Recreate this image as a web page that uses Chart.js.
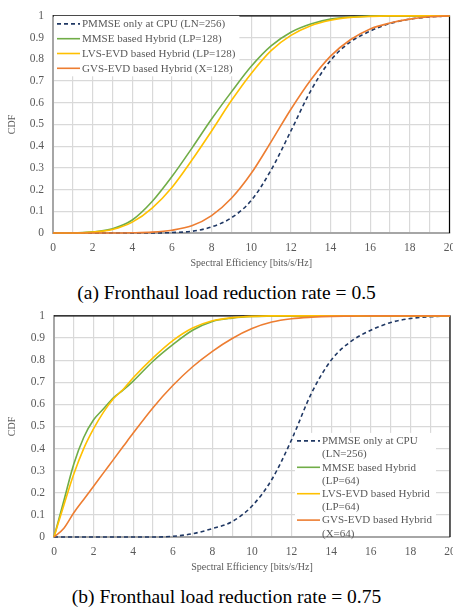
<!DOCTYPE html>
<html>
<head>
<meta charset="utf-8">
<script src="https://cdn.jsdelivr.net/npm/chart.js@4"></script>
<style>
  body { margin: 0; background: #fff; width: 453px; height: 609px; overflow: hidden; position: relative;
         font-family: "Liberation Serif", "Times New Roman", serif; }
  canvas { position: absolute; left: 0; }
  .cap { position: absolute; left: 0; width: 453px; text-align: center; font-size: 19.5px; line-height: 22px; color: #000; }
</style>
</head>
<body>
<canvas id="chartA" width="453" height="280" style="top:0"></canvas>
<div class="cap" style="top:282px">(a) Fronthaul load reduction rate = 0.5</div>
<canvas id="chartB" width="453" height="284" style="top:300px"></canvas>
<div class="cap" style="top:586px">(b) Fronthaul load reduction rate = 0.75</div>
<script>
// (a) reduction rate 0.5
const seTop = [0, 1, 2, 3, 4, 5, 6, 7, 8, 9, 10, 11, 12, 13, 14, 15, 16, 17, 18, 19, 20];
const pmmseTop = [0, 0, 0, 0, 0, 0, 0.002, 0.008, 0.028, 0.07, 0.15, 0.29, 0.47, 0.655, 0.795, 0.88, 0.93, 0.965, 0.985, 0.995, 1];
const mmseTop = [0, 0, 0.005, 0.02, 0.06, 0.145, 0.26, 0.39, 0.525, 0.65, 0.768, 0.862, 0.925, 0.963, 0.985, 0.995, 0.999, 1, 1, 1, 1];
const lvsTop = [0, 0, 0.004, 0.016, 0.05, 0.115, 0.21, 0.335, 0.47, 0.61, 0.735, 0.84, 0.91, 0.955, 0.98, 0.993, 0.998, 1, 1, 1, 1];
const gvsTop = [0, 0, 0, 0, 0.001, 0.004, 0.013, 0.033, 0.08, 0.16, 0.275, 0.42, 0.57, 0.705, 0.815, 0.89, 0.94, 0.967, 0.985, 0.996, 1];

// (b) reduction rate 0.75
const seBot = [0, 0.5, 1, 1.5, 2, 2.5, 3, 3.5, 4, 5, 6, 7, 8, 9, 10, 11, 12, 13, 14, 15, 16, 17, 18, 19, 20];
const pmmseBot = [0, 0, 0, 0, 0, 0, 0, 0, 0, 0, 0.003, 0.015, 0.038, 0.07, 0.14, 0.26, 0.44, 0.65, 0.8, 0.885, 0.935, 0.97, 0.988, 0.996, 1];
const mmseBot = [0, 0.165, 0.33, 0.45, 0.53, 0.58, 0.63, 0.665, 0.705, 0.795, 0.87, 0.935, 0.975, 0.99, 0.997, 0.999, 1, 1, 1, 1, 1, 1, 1, 1, 1];
const lvsBot = [0, 0.145, 0.285, 0.4, 0.49, 0.565, 0.625, 0.668, 0.72, 0.81, 0.888, 0.945, 0.978, 0.992, 0.998, 1, 1, 1, 1, 1, 1, 1, 1, 1, 1];
const gvsBot = [0, 0.04, 0.11, 0.17, 0.23, 0.29, 0.35, 0.41, 0.47, 0.585, 0.685, 0.77, 0.84, 0.898, 0.943, 0.972, 0.987, 0.994, 0.998, 0.999, 1, 1, 1, 1, 1];

const labelsTop = ["PMMSE only at CPU (LN=256)", "MMSE based Hybrid (LP=128)", "LVS-EVD based Hybrid (LP=128)", "GVS-EVD based Hybrid (X=128)"];
const labelsBot = [["PMMSE only at CPU", "(LN=256)"], ["MMSE based Hybrid", "(LP=64)"], ["LVS-EVD based Hybrid", "(LP=64)"], ["GVS-EVD based Hybrid", "(X=64)"]];

const FONT = '"Liberation Serif", "Times New Roman", serif';
const GREY = "#595959";
const colors = ["#203864", "#70ad47", "#ffc000", "#ed7d31"];

Chart.defaults.font.family = FONT;

// black frame on top/right + legend drawn inside the plot area
const frameAndLegend = {
  id: "frameAndLegend",
  beforeDatasetsDraw(chart) {
    const { ctx, chartArea: a } = chart;
    ctx.save();
    ctx.strokeStyle = "#000";
    ctx.lineWidth = 1.2;
    ctx.beginPath();
    ctx.moveTo(a.left, a.top);
    ctx.lineTo(a.right, a.top);
    ctx.lineTo(a.right, a.bottom);
    ctx.stroke();
    ctx.restore();
  },
  afterDatasetsDraw(chart, args, opts) {
    const { ctx, chartArea: a } = chart;
    const sets = chart.data.datasets;
    ctx.save();
    ctx.font = "11px " + FONT;
    let rows = 0, maxW = 0;
    sets.forEach((ds) => {
      [].concat(ds.label).forEach((t) => {
        rows++;
        maxW = Math.max(maxW, ctx.measureText(t).width);
      });
    });
    const x0 = a.left + opts.x;
    const y0 = a.top + opts.y;
    const textX = x0 + opts.sample + 2;
    const boxL = x0 - opts.padL;
    const boxT = y0 - 8;
    const boxR = Math.min(textX + maxW + 4, a.right - 1);
    const boxB = Math.min(y0 + (rows - 1) * opts.lh + 8, a.bottom - 1);
    ctx.fillStyle = "#fff";
    ctx.fillRect(boxL, boxT, boxR - boxL, boxB - boxT);

    let y = y0;
    ctx.textBaseline = "middle";
    ctx.textAlign = "left";
    sets.forEach((ds) => {
      ctx.strokeStyle = ds.borderColor;
      ctx.lineWidth = 1.6;
      ctx.setLineDash(ds.borderDash || []);
      ctx.beginPath();
      ctx.moveTo(x0, y);
      ctx.lineTo(x0 + opts.sample, y);
      ctx.stroke();
      ctx.setLineDash([]);
      ctx.fillStyle = GREY;
      [].concat(ds.label).forEach((t) => {
        ctx.fillText(t, textX, y + 0.5);
        y += opts.lh;
      });
    });
    ctx.restore();
  },
};

function makeChart(id, xs, series, labels, yWidth, padTop, padRight, legendOpts) {
  const datasets = series.map((vals, i) => ({
    label: labels[i],
    data: xs.map((x, k) => ({ x: x, y: vals[k] })),
    borderColor: colors[i],
    borderWidth: 1.6,
    borderDash: i === 0 ? [4, 3] : [],
    pointRadius: 0,
    cubicInterpolationMode: "monotone",
    clip: false,
    order: 4 - i,
  }));

  return new Chart(document.getElementById(id), {
    type: "line",
    data: { datasets: datasets },
    plugins: [frameAndLegend],
    options: {
      responsive: false,
      animation: false,
      devicePixelRatio: 1,
      layout: { padding: { top: padTop, right: padRight, left: 0, bottom: 0 } },
      plugins: {
        legend: { display: false },
        tooltip: { enabled: false },
        frameAndLegend: legendOpts,
      },
      scales: {
        x: {
          type: "linear",
          min: 0,
          max: 20,
          grid: { color: "#d9d9d9", lineWidth: 1.2, drawTicks: false },
          border: { color: "#a6a6a6", width: 2 },
          ticks: {
            stepSize: 1,
            autoSkip: false,
            maxRotation: 0,
            padding: 8,
            color: GREY,
            font: { size: 11.5 },
            callback: (v) => (v % 2 === 0 ? String(v) : ""),
          },
          title: {
            display: true,
            text: "Spectral Efficiency [bits/s/Hz]",
            color: GREY,
            font: { size: 10 },
            padding: { top: 0, bottom: 11 },
          },
          afterFit(s) {
            s.height = 47;
            s.paddingLeft = 0;
            s.paddingRight = 0;
          },
        },
        y: {
          min: 0,
          max: 1,
          grid: { color: "#d9d9d9", lineWidth: 1.2, drawTicks: false },
          border: { color: "#a6a6a6", width: 2 },
          ticks: {
            stepSize: 0.1,
            padding: 9,
            color: GREY,
            font: { size: 11.5 },
            callback: (v) => String(Number(v.toFixed(1))),
          },
          title: {
            display: true,
            text: "CDF",
            color: GREY,
            font: { size: 10 },
            padding: { top: 6, bottom: 0 },
          },
          afterFit(s) {
            s.width = yWidth;
          },
        },
      },
    },
  });
}

makeChart("chartA", seTop, [pmmseTop, mmseTop, lvsTop, gvsTop], labelsTop, 53, 10, 3.5,
  { x: 4, y: 8, sample: 23, lh: 14.8, padL: 3 });
makeChart("chartB", seBot, [pmmseBot, mmseBot, lvsBot, gvsBot], labelsBot, 54, 13, 3,
  { x: 243, y: 125, sample: 23, lh: 13.2, padL: 2 });
</script>
</body>
</html>
